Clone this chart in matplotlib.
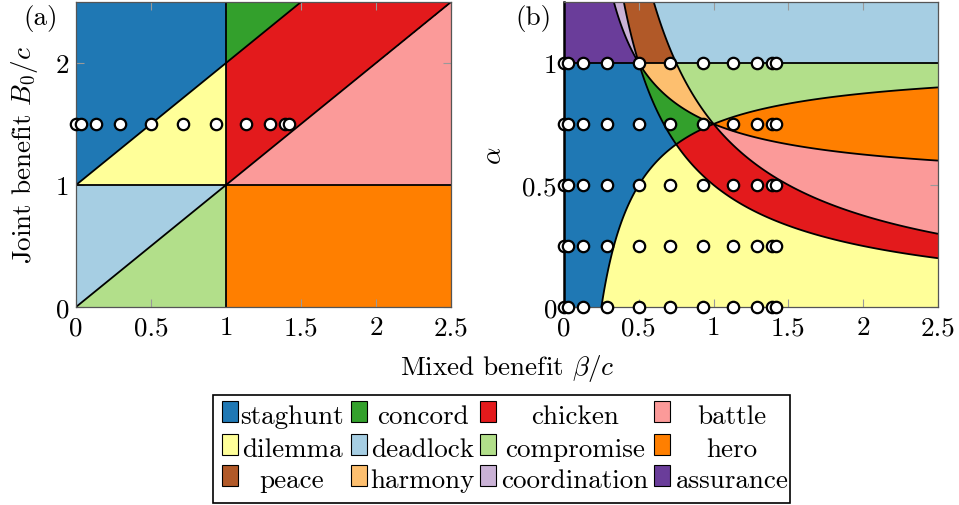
import numpy as np
import matplotlib
matplotlib.use("Agg")
import matplotlib.pyplot as plt
from matplotlib.colors import ListedColormap
from matplotlib.patches import Rectangle

# ---------------- data ----------------
B0 = 1.5          # joint benefit used in panel (b) and for points in (a)
c = 1.0           # cost
alpha_a = 0.5     # alpha value corresponding to panel (a)
beta_points = [0.0, 0.03, 0.13, 0.29, 0.5, 0.71, 0.93, 1.13, 1.29, 1.39, 1.42]
alpha_points = [0.0, 0.25, 0.5, 0.75, 1.0]

names = ['staghunt', 'concord', 'chicken', 'battle',
         'dilemma', 'deadlock', 'compromise', 'hero',
         'peace', 'harmony', 'coordination', 'assurance']
colors = ['#1f78b4', '#33a02c', '#e31a1c', '#fb9a99',
          '#ffff99', '#a6cee3', '#b2df8a', '#ff7f00',
          '#b15928', '#fdbf6f', '#cab2d6', '#6a3d9a']
orderings = ['RTPS', 'RTSP', 'TRSP', 'TSRP',
             'TRPS', 'TPRS', 'TPSR', 'TSPR',
             'RSPT', 'RSTP', 'RPST', 'RPTS']

xticks = [0, 0.5, 1, 1.5, 2, 2.5]
xticklabels = ['0', '0.5', '1', '1.5', '2', '2.5']
yticks_a = [0, 1, 2]
yticklabels_a = ['0', '1', '2']
yticks_b = [0, 0.5, 1]
yticklabels_b = ['0', '0.5', '1']

# ---------------- model ----------------
def payoffs(b0, beta, alpha, cost):
    R = b0 - cost + 0 * beta
    S = 2 * alpha * beta - cost
    T = 2 * (1 - alpha) * beta
    P = 0 * beta + 0 * b0
    return {'R': R, 'S': S, 'T': T, 'P': P}

letters = 'RSTP'
swap = {'R': 'P', 'P': 'R', 'S': 'T', 'T': 'S'}
lookup = np.full(256, -1)
for k, o in enumerate(orderings):
    for oo in (o, ''.join(swap[ch] for ch in o)):
        idx = [letters.index(ch) for ch in oo]
        lookup[idx[0] * 64 + idx[1] * 16 + idx[2] * 4 + idx[3]] = k

def classify(pay):
    vals = np.stack([pay[l] for l in letters])
    order = np.argsort(-vals, axis=0, kind='stable')
    code = order[0] * 64 + order[1] * 16 + order[2] * 4 + order[3]
    return lookup[code]

cmap = ListedColormap(colors)

plt.rcParams['font.family'] = 'serif'
plt.rcParams['font.serif'] = ['cmr10', 'DejaVu Serif']
plt.rcParams['mathtext.fontset'] = 'cm'
plt.rcParams['axes.formatter.use_mathtext'] = True
FS = 19.5

fig = plt.figure(figsize=(9.59, 5.06), dpi=100)
W, H = 959.0, 506.0

def ax_rect(l, r, t, b):
    return [l / W, 1 - b / H, (r - l) / W, (b - t) / H]

axa = fig.add_axes(ax_rect(76, 451, 3, 308))
axb = fig.add_axes(ax_rect(564, 938, 3, 308))

N = 1400
pairs = [('R', 'T'), ('S', 'P'), ('R', 'S'), ('T', 'S'), ('T', 'P'), ('R', 'P')]

def draw_panel(ax, xg, yg, pay_fn, xlim, ylim):
    X, Y = np.meshgrid(xg, yg)
    pay = pay_fn(X, Y)
    cls = classify(pay)
    ax.imshow(cls, origin='lower', extent=[xlim[0], xlim[1], ylim[0], ylim[1]],
              cmap=cmap, vmin=-0.5, vmax=len(colors) - 0.5, aspect='auto',
              interpolation='nearest', zorder=1)
    for a, b in pairs:
        d = pay[a] - pay[b]
        if d.min() < 0 < d.max():
            ax.contour(X, Y, d, levels=[0], colors='k', linewidths=1.3, zorder=3)
    ax.set_xlim(*xlim)
    ax.set_ylim(*ylim)

# panel (a): x = beta, y = B0
xg = np.linspace(1e-6, 2.5, N)
yg_a = np.linspace(1e-6, 2.5, N)
draw_panel(axa, xg, yg_a, lambda X, Y: payoffs(Y, X, alpha_a, c), (0, 2.5), (0, 2.5))
# panel (b): x = beta, y = alpha
yg_b = np.linspace(1e-6, 1.25, N)
draw_panel(axb, xg, yg_b, lambda X, Y: payoffs(B0, X, Y, c), (0, 2.5), (0, 1.25))

mk = dict(marker='o', ms=8.2, mfc='white', mec='black', mew=1.6, ls='none',
          clip_on=False, zorder=5)
axa.plot(beta_points, [B0] * len(beta_points), **mk)
for al in alpha_points:
    axb.plot(beta_points, [al] * len(beta_points), **mk)

for ax, yt, ytl in ((axa, yticks_a, yticklabels_a), (axb, yticks_b, yticklabels_b)):
    ax.set_xticks(xticks)
    ax.set_xticklabels(xticklabels, fontsize=FS)
    ax.set_yticks(yt)
    ax.set_yticklabels(ytl, fontsize=FS)
    ax.tick_params(direction='in', length=6, width=0.8, color='#999999',
                   top=True, right=True, pad=6)
    ax.tick_params(axis='y', pad=5)
    for s in ax.spines.values():
        s.set_color('#555555')
        s.set_linewidth(0.9)
        s.set_zorder(4)
axb.spines['left'].set_color('black')
axb.spines['left'].set_linewidth(1.8)

axa.set_ylabel(r'Joint benefit $B_0/c$', fontsize=FS, labelpad=11)
axb.set_ylabel(r'$\alpha$', fontsize=FS, labelpad=12)

# overlay axes in pixel coordinates for figure-level texts and legend
ov = fig.add_axes([0, 0, 1, 1], zorder=10)
ov.set_xlim(0, W)
ov.set_ylim(H, 0)
ov.axis('off')

ov.text(507, 368, r'Mixed benefit $\beta/c$', fontsize=FS, ha='center', va='center')
ov.text(41, 18, '(a)', fontsize=FS, ha='center', va='center')
ov.text(533, 18, '(b)', fontsize=FS, ha='center', va='center')

# legend
ov.add_patch(Rectangle((213, 396), 577, 108, fill=False, ec='black', lw=1.2))
sw_x = [222, 351, 480, 654]
txt_cx = [292, 422.5, 575, 732]
baselines = [424, 457, 488]
for k, name in enumerate(names):
    row, col = divmod(k, 4)
    yb = baselines[row]
    ov.add_patch(Rectangle((sw_x[col], yb - 22), 16, 21, fc=colors[k], ec='black', lw=0.8))
    ov.text(txt_cx[col], yb, name, fontsize=FS, ha='center', va='baseline')

fig.savefig('out.png', dpi=100)
